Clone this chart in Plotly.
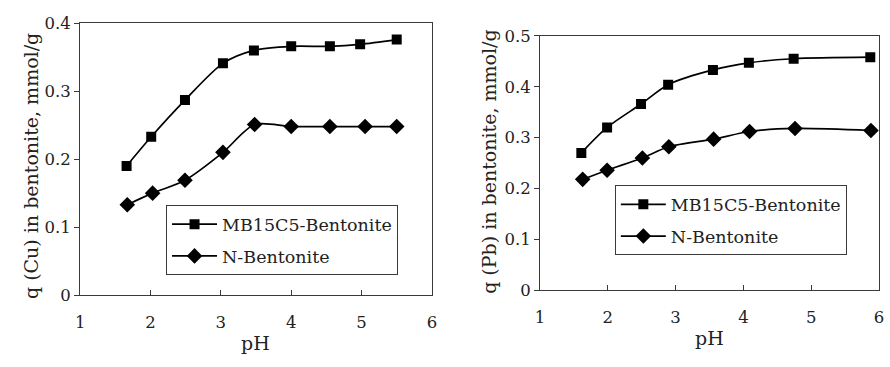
import plotly.graph_objects as go

# Cu adsorption (left panel)
ph_cu_mb = [1.66, 2.01, 2.49, 3.03, 3.47, 4.00, 4.55, 4.98, 5.50]
q_cu_mb = [0.190, 0.233, 0.287, 0.341, 0.360, 0.366, 0.366, 0.369, 0.376]
ph_cu_n = [1.67, 2.03, 2.49, 3.03, 3.48, 4.00, 4.55, 5.05, 5.50]
q_cu_n = [0.133, 0.150, 0.169, 0.210, 0.251, 0.248, 0.248, 0.248, 0.248]

# Pb adsorption (right panel)
ph_pb_mb = [1.61, 1.99, 2.49, 2.89, 3.55, 4.08, 4.74, 5.87]
q_pb_mb = [0.270, 0.320, 0.366, 0.404, 0.433, 0.447, 0.455, 0.458]
ph_pb_n = [1.63, 1.99, 2.51, 2.90, 3.56, 4.09, 4.76, 5.88]
q_pb_n = [0.218, 0.236, 0.260, 0.282, 0.297, 0.312, 0.318, 0.314]

x_ticks = [1, 2, 3, 4, 5, 6]
y_ticks_cu = [0, 0.1, 0.2, 0.3, 0.4]
y_ticks_pb = [0, 0.1, 0.2, 0.3, 0.4, 0.5]

x_title = "pH"
y_title_cu = "q (Cu) in bentonite, mmol/g"
y_title_pb = "q (Pb) in bentonite, mmol/g"

FONT = "DejaVu Serif"
LINE = dict(color="black", width=1.7, shape="spline", smoothing=0.8)

fig = go.Figure()
fig.add_trace(go.Scatter(x=ph_cu_mb, y=q_cu_mb, mode="lines+markers", name="MB15C5-Bentonite",
                         line=LINE, marker=dict(symbol="square", size=10, color="black"),
                         xaxis="x", yaxis="y", legend="legend", legendgroup="a"))
fig.add_trace(go.Scatter(x=ph_cu_n, y=q_cu_n, mode="lines+markers", name="N-Bentonite",
                         line=LINE, marker=dict(symbol="diamond", size=12, color="black"),
                         xaxis="x", yaxis="y", legend="legend", legendgroup="b"))
fig.add_trace(go.Scatter(x=ph_pb_mb, y=q_pb_mb, mode="lines+markers", name="MB15C5-Bentonite",
                         line=LINE, marker=dict(symbol="square", size=10, color="black"),
                         xaxis="x2", yaxis="y2", legend="legend2", legendgroup="c"))
fig.add_trace(go.Scatter(x=ph_pb_n, y=q_pb_n, mode="lines+markers", name="N-Bentonite",
                         line=LINE, marker=dict(symbol="diamond", size=12, color="black"),
                         xaxis="x2", yaxis="y2", legend="legend2", legendgroup="d"))

tickfont = dict(family=FONT, size=16.5, color="#222")
titlefont = dict(family=FONT, size=19, color="#222")
legfont = dict(family=FONT, size=17.5, color="#222")

axis_common = dict(showline=True, mirror=True, linecolor="#3a3a3a", linewidth=1,
                   showgrid=False, zeroline=False, ticklen=5, tickcolor="#3a3a3a",
                   tickfont=tickfont)

fig.update_layout(
    width=890, height=367,
    margin=dict(l=0, r=0, t=0, b=0),
    paper_bgcolor="white", plot_bgcolor="white",
    font=dict(family=FONT, size=17, color="#222"),
    xaxis=dict(domain=[0.0854, 0.4851], range=[1, 6], tickvals=x_ticks, ticks="inside",
               ticklabelstandoff=12, anchor="y", **axis_common),
    yaxis=dict(domain=[0.178, 0.959], range=[0, 0.4], tickvals=y_ticks_cu,
               ticktext=["0", "0.1", "0.2", "0.3", "0.4"], ticks="outside", anchor="x",
               **axis_common),
    xaxis2=dict(domain=[0.6079, 0.9933], range=[1, 6], tickvals=x_ticks, ticks="inside",
                ticklabelstandoff=12, anchor="y2", **axis_common),
    yaxis2=dict(domain=[0.1916, 0.9229], range=[0, 0.5], tickvals=y_ticks_pb,
                ticktext=["0", "0.1", "0.2", "0.3", "0.4", "0.5"], ticks="outside", anchor="x2",
                **axis_common),
    legend=dict(x=0.183, y=0.436, xanchor="left", yanchor="top", bgcolor="white",
                bordercolor="#3a3a3a", borderwidth=1, font=legfont,
                traceorder="grouped", tracegroupgap=6, itemwidth=45),
    legend2=dict(x=0.693, y=0.493, xanchor="left", yanchor="top", bgcolor="white",
                 bordercolor="#3a3a3a", borderwidth=1, font=legfont,
                 traceorder="grouped", tracegroupgap=6, itemwidth=45),
    showlegend=True,
    annotations=[
        dict(text=x_title, xref="paper", yref="paper", x=0.2851, y=0.0409,
             xanchor="center", yanchor="middle", showarrow=False, font=titlefont),
        dict(text=x_title, xref="paper", yref="paper", x=0.8, y=0.0545,
             xanchor="center", yanchor="middle", showarrow=False, font=titlefont),
        dict(text=y_title_cu, xref="paper", yref="paper", x=0.0303, y=0.5477, textangle=-90,
             xanchor="center", yanchor="middle", showarrow=False, font=titlefont),
        dict(text=y_title_pb, xref="paper", yref="paper", x=0.5506, y=0.5594, textangle=-90,
             xanchor="center", yanchor="middle", showarrow=False, font=titlefont),
    ],
)

fig.write_html("out.html")
